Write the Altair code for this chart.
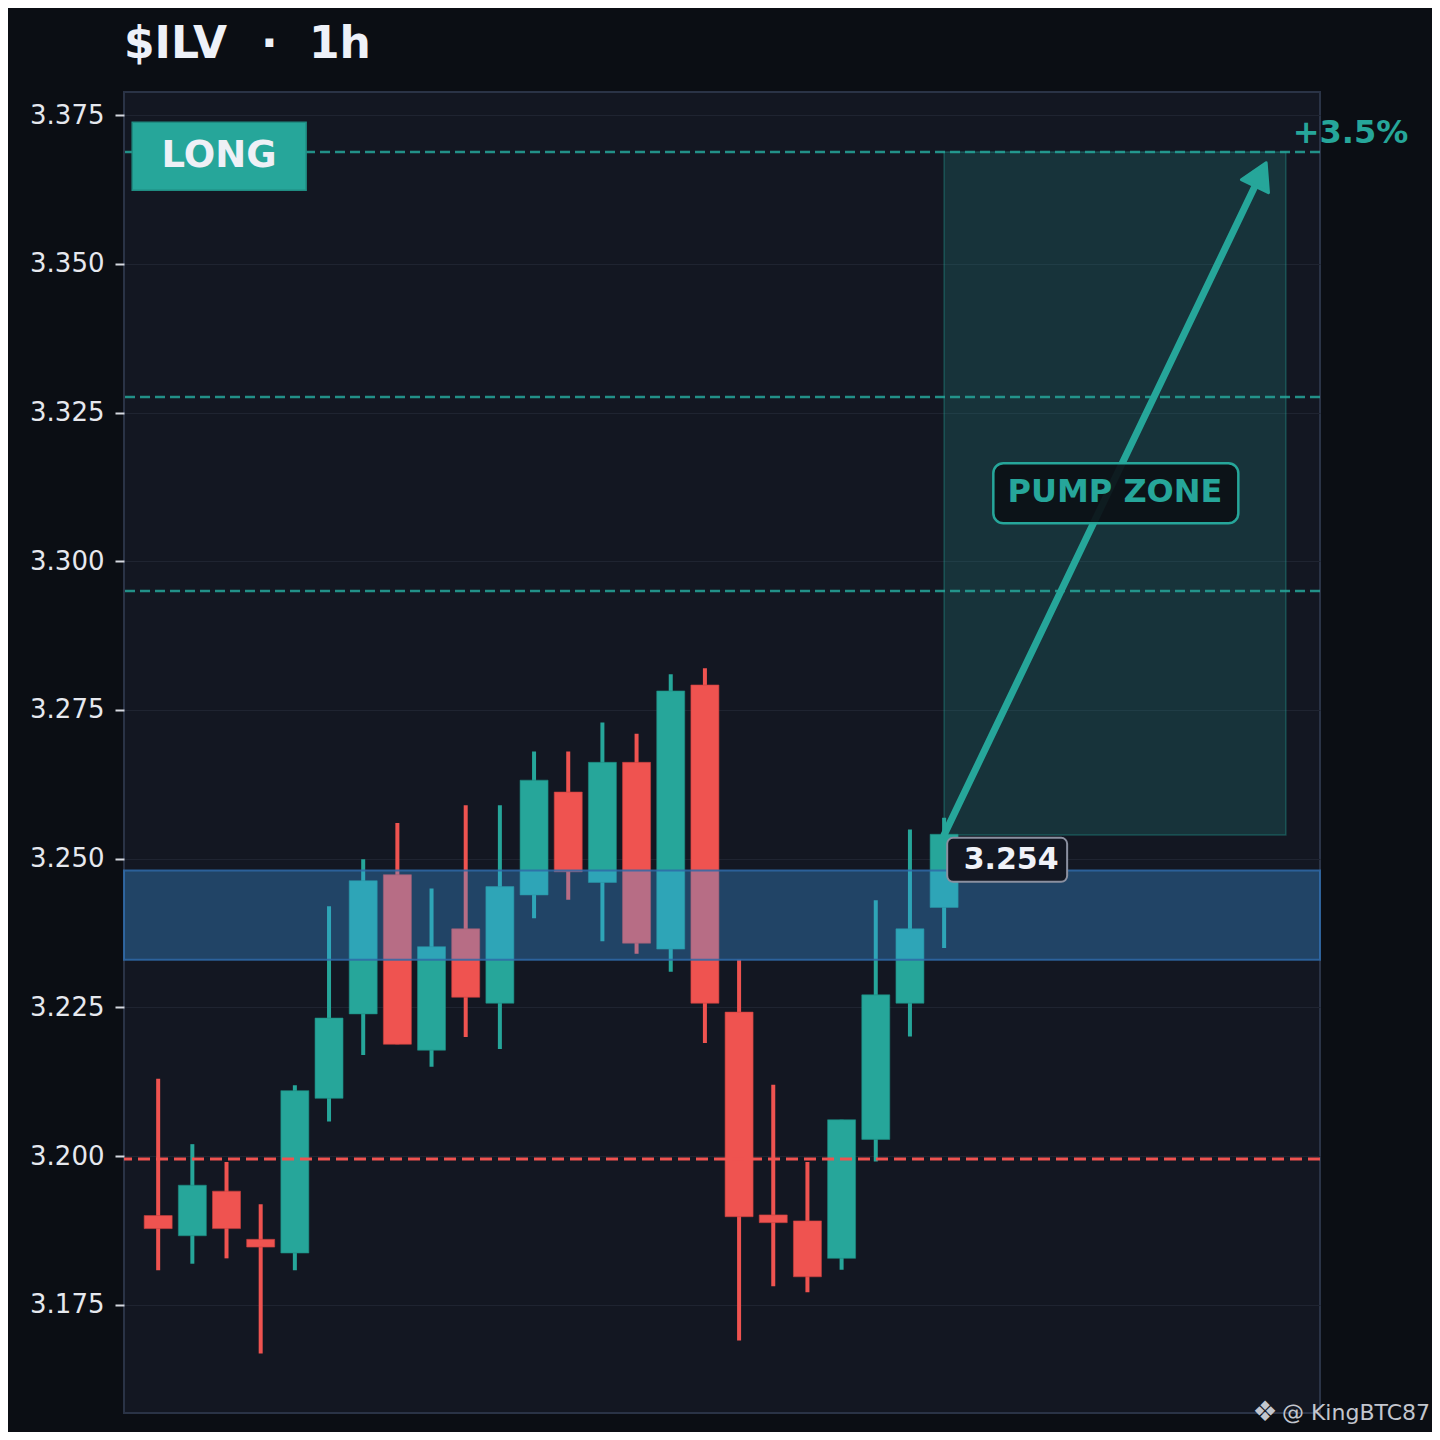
import math
import altair as alt
import pandas as pd

# ---------------- data ----------------
opens = [3.1900, 3.1866, 3.1941, 3.1860, 3.1837, 3.2097, 3.2239, 3.2473, 3.2178, 3.2382,
         3.2257, 3.2439, 3.2612, 3.2460, 3.2662, 3.2348, 3.2792, 3.2242, 3.1901, 3.1891,
         3.1828, 3.2028, 3.2257, 3.2418]
closes = [3.1878, 3.1951, 3.1878, 3.1847, 3.2110, 3.2232, 3.2463, 3.2188, 3.2352, 3.2267,
          3.2453, 3.2632, 3.2478, 3.2662, 3.2358, 3.2782, 3.2257, 3.1898, 3.1888, 3.1797,
          3.2061, 3.2271, 3.2382, 3.2541]
highs = [3.2130, 3.2020, 3.1990, 3.1919, 3.2119, 3.2420, 3.2499, 3.2560, 3.2450, 3.2590,
         3.2590, 3.2680, 3.2680, 3.2729, 3.2710, 3.2810, 3.2820, 3.2330, 3.2120, 3.1990,
         3.2061, 3.2430, 3.2549, 3.2569]
lows = [3.1808, 3.1819, 3.1828, 3.1668, 3.1808, 3.2058, 3.2170, 3.2188, 3.2150, 3.2200,
        3.2180, 3.2400, 3.2431, 3.2361, 3.2340, 3.2310, 3.2190, 3.1690, 3.1781, 3.1771,
        3.1809, 3.1991, 3.2201, 3.2350]

y_ticks = [3.175, 3.200, 3.225, 3.250, 3.275, 3.300, 3.325, 3.350, 3.375]
x_domain = [-1, 34]
y_domain = [3.1568, 3.3789]

target_levels = [3.3688, 3.3276, 3.2950]
stop_level = [3.1995]
entry_zone = [3.2330, 3.2480]
pump_zone = {"x": 23, "x2": 33, "y": 3.2540, "y2": 3.3688}
arrow = {"x0": 23.0, "y0": 3.2540, "x1": 32.45, "y1": 3.3673}

long_box = {"x": -0.76, "x2": 4.33, "y": 3.3738, "y2": 3.3624, "tx": 1.78, "ty": 3.3681, "t": "LONG"}
pump_box = {"x": 24.44, "x2": 31.61, "y": 3.3165, "y2": 3.3064, "tx": 28.0, "ty": 3.3116, "t": "PUMP ZONE"}
price_box = {"x": 23.09, "x2": 26.6, "y": 3.2535, "y2": 3.2461, "tx": 24.96, "ty": 3.2497, "t": "3.254"}
pct_label = {"x": 33.2, "y": 3.3720, "t": "+3.5%"}

title_parts = ["$ILV", "\u00b7", "1h"]
watermark = "@ KingBTC87"

# ---------------- styling ----------------
W, H = 1196, 1321
TEAL = "#26a69a"
RED = "#ef5350"
FONT = "DejaVu Sans"

xs = alt.Scale(domain=x_domain, nice=False, zero=False, padding=0)
ys = alt.Scale(domain=y_domain, nice=False, zero=False, padding=0)

candles = pd.DataFrame({
    "i": list(range(len(opens))),
    "open": opens, "close": closes, "high": highs, "low": lows,
})
candles["dir"] = ["up" if c >= o else "down" for o, c in zip(opens, closes)]
color = alt.Color("dir:N", scale=alt.Scale(domain=["up", "down"], range=[TEAL, RED]), legend=None)

X = lambda f: alt.X(f, type="quantitative", scale=xs, axis=None)
Y = lambda f: alt.Y(f, type="quantitative", scale=ys, title=None,
                    axis=alt.Axis(values=y_ticks, format=".3f", grid=True, gridColor="#1f2431",
                                  gridWidth=1, domain=False, tickColor="#d6d9e0", tickSize=9,
                                  tickWidth=2, labelFont=FONT, labelFontSize=26,
                                  labelColor="#e6e8ee", labelPadding=11))

# pump zone
pz = pd.DataFrame([pump_zone])
pump_rect = alt.Chart(pz).mark_rect(fill=TEAL, fillOpacity=0.2, stroke=TEAL, strokeOpacity=0.35,
                                    strokeWidth=1.5).encode(
    x=X("x"), x2="x2", y=Y("y"), y2="y2")

wicks = alt.Chart(candles).mark_rule(strokeWidth=4).encode(
    x=X("i"), y=Y("low"), y2="high", color=color)

bodies = alt.Chart(candles).mark_bar(size=28, strokeWidth=1, strokeOpacity=0.6).encode(
    x=X("i"), y=Y("open"), y2="close", color=color,
    stroke=alt.Stroke("dir:N", scale=alt.Scale(domain=["up", "down"], range=["#1d8a80", "#c9403e"]),
                      legend=None))

ez = pd.DataFrame([{"y": entry_zone[0], "y2": entry_zone[1]}])
entry_rect = alt.Chart(ez).mark_rect(fill="#42a5f5", fillOpacity=0.32, stroke="#2f6aa8",
                                     strokeOpacity=0.85, strokeWidth=2).encode(
    y=Y("y"), y2="y2")

tl = pd.DataFrame({"y": target_levels})
target_rules = alt.Chart(tl).mark_rule(color=TEAL, strokeWidth=2.5, strokeDash=[10, 5],
                                       opacity=0.85).encode(y=Y("y"))
sl = pd.DataFrame({"y": stop_level})
stop_rule = alt.Chart(sl).mark_rule(color=RED, strokeWidth=3, strokeDash=[12, 6]).encode(y=Y("y"))

# arrow
ppx = W / (x_domain[1] - x_domain[0])
ppy = H / (y_domain[1] - y_domain[0])
dxp = (arrow["x1"] - arrow["x0"]) * ppx
dyp = (arrow["y1"] - arrow["y0"]) * ppy
L = math.hypot(dxp, dyp)
ux, uy = dxp / L, dyp / L
ang = math.degrees(math.atan2(dxp, dyp))
r = 15
line_end = {"x0": arrow["x0"], "y0": arrow["y0"],
            "x1": arrow["x1"] - 22 * ux / ppx, "y1": arrow["y1"] - 22 * uy / ppy}
head = {"x": arrow["x1"] - r * ux / ppx, "y": arrow["y1"] - r * uy / ppy}

arrow_line = alt.Chart(pd.DataFrame([line_end])).mark_rule(color=TEAL, strokeWidth=7,
                                                           strokeCap="round").encode(
    x=X("x0"), y=Y("y0"), x2="x1", y2="y1")
arrow_head = alt.Chart(pd.DataFrame([head])).mark_point(shape="triangle-up", size=(2 * r) ** 2,
                                                        filled=True, color=TEAL, opacity=1,
                                                        angle=ang, stroke=TEAL, strokeWidth=3,
                                                        strokeJoin="round").encode(
    x=X("x"), y=Y("y"))


def box(d, fill, stroke, sw, radius, tcolor, size, fill_op=1.0):
    df = pd.DataFrame([d])
    rect = alt.Chart(df).mark_rect(fill=fill, fillOpacity=fill_op, stroke=stroke, strokeWidth=sw,
                                   cornerRadius=radius).encode(
        x=X("x"), x2="x2", y=Y("y"), y2="y2")
    txt = alt.Chart(df).mark_text(font=FONT, fontWeight="bold", fontSize=size, color=tcolor,
                                  align="center", baseline="middle").encode(
        x=X("tx"), y=Y("ty"), text="t:N")
    return [rect, txt]


long_layers = box(long_box, TEAL, "#1f8c82", 1.5, 0, "#eef0f6", 37)
pump_layers = box(pump_box, "#0c1016", TEAL, 2.5, 10, TEAL, 32, fill_op=0.92)
price_layers = box(price_box, "#131722", "#8b90a0", 2, 6, "#f0f2f8", 30)

pct = alt.Chart(pd.DataFrame([pct_label])).mark_text(
    font=FONT, fontWeight="bold", fontSize=32, color=TEAL, align="left", baseline="middle").encode(
    x=X("x"), y=Y("y"), text="t:N")

title_df = pd.DataFrame({"t": title_parts, "px": [0, 137, 185]})
title = alt.Chart(title_df).mark_text(
    font=FONT, fontWeight="bold", fontSize=44, color="#eef1f8", align="left",
    baseline="alphabetic").encode(
    x=alt.X("px:Q", scale=None, axis=None), y=alt.value(-34), text="t:N")

wm = alt.Chart(pd.DataFrame([{"t": watermark}])).mark_text(
    font=FONT, fontSize=22, color="#c3c6ce", align="right", baseline="middle").encode(
    x=alt.value(1306), y=alt.value(1321), text="t:N")
logo = alt.Chart(pd.DataFrame([{"t": "\u2756"}])).mark_text(
    font=FONT, fontSize=28, color="#c3c6ce", align="center", baseline="middle").encode(
    x=alt.value(1141), y=alt.value(1321), text="t:N")

chart = alt.layer(
    pump_rect, wicks, bodies, entry_rect, target_rules, stop_rule,
    arrow_line, arrow_head, *long_layers, *pump_layers, *price_layers, pct, title, wm, logo
).resolve_scale(x="independent").properties(
    width=W, height=H,
    autosize=alt.AutoSizeParams(type="none"),
    padding={"left": 116, "top": 84, "right": 112, "bottom": 19},
    background="#0b0e14",
).configure_view(fill="#131722", stroke="#2a3346", strokeWidth=2)

chart.save("out.html", embed_options={"renderer": "svg", "actions": False})
